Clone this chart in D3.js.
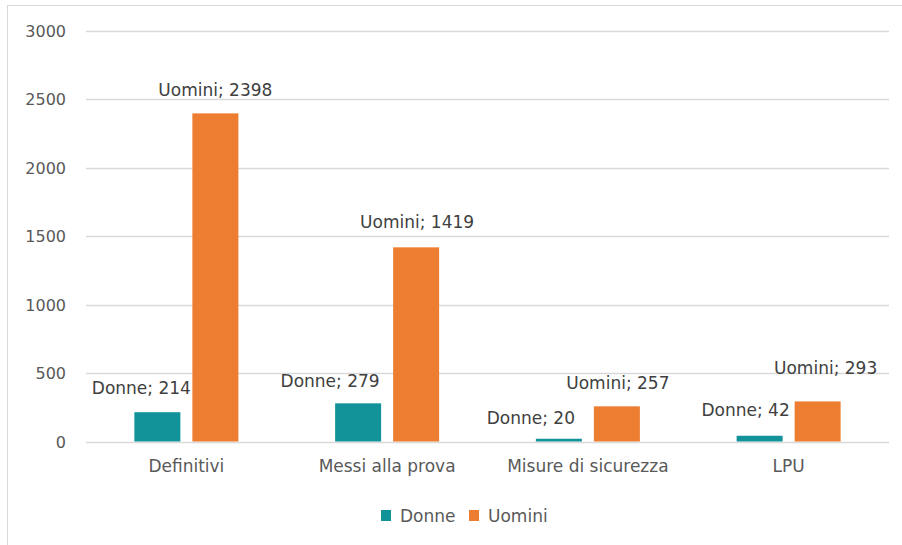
<!doctype html>
<html lang="it">
  <head>
    <meta charset="UTF-8" />
    <title>Donne e Uomini</title>
    <style>
      body { margin: 0; background: #fff; }
      svg text { font-family: "DejaVu Sans", sans-serif; fill: #595959; }
      svg text.lbl { fill: #404040; }
    </style>
  </head>
  <body>
    <div id="chart"></div>
    <script src="https://cdn.jsdelivr.net/npm/d3@7"></script>
    <script>
      const categories = ["Definitivi", "Messi alla prova", "Misure di sicurezza", "LPU"];
      const seriesNames = ["Donne", "Uomini"];
      const donne = [214, 279, 20, 42];
      const uomini = [2398, 1419, 257, 293];
      const yTicks = [0, 500, 1000, 1500, 2000, 2500, 3000];
      const colors = ["#12939a", "#ed7d31"];
      // label nudges (px) relative to bar centre / top, as placed in the original
      const labelDx = [[-16, -28, -28, -14], [0, 1, 1, 8]];
      const labelDy = [[-24, -22, -21, -26], [-23, -25, -23, -33]];

      const width = 902, height = 545;
      const margin = { top: 31, left: 86, right: 13, bottom: 104 };
      const values = [donne, uomini];

      const svg = d3.select("#chart").append("svg")
          .attr("width", width)
          .attr("height", height);

      // frame
      svg.append("rect")
          .attr("x", 7.5).attr("y", 5.5)
          .attr("width", width).attr("height", height)
          .attr("fill", "none").attr("stroke", "#d9d9d9");

      const y = d3.scaleLinear().domain([0, 3000]).range([height - margin.bottom + 0.5, margin.top]);
      const x0 = d3.scaleBand().domain(categories).range([margin.left, width - margin.right]);
      const x1 = d3.scaleBand().domain(seriesNames).range([0, x0.bandwidth()])
          .paddingInner(0.207).paddingOuter(0.834);

      // gridlines + tick labels
      svg.append("g").selectAll("line").data(yTicks).enter().append("line")
          .attr("x1", margin.left).attr("x2", width - margin.right)
          .attr("y1", d => Math.round(y(d)) + 0.5).attr("y2", d => Math.round(y(d)) + 0.5)
          .attr("stroke", "#d9d9d9").attr("stroke-width", 1.5);

      svg.append("g").selectAll("text").data(yTicks).enter().append("text")
          .attr("x", 66).attr("y", d => y(d) + 6)
          .attr("text-anchor", "end").attr("font-size", 16)
          .text(d => d);

      // bars
      seriesNames.forEach((s, si) => {
          const g = svg.append("g");
          g.selectAll("rect").data(values[si]).enter().append("rect")
              .attr("x", (d, i) => x0(categories[i]) + x1(s))
              .attr("y", d => y(d))
              .attr("width", x1.bandwidth())
              .attr("height", d => y(0) - y(d))
              .attr("fill", colors[si]);

          g.selectAll("text").data(values[si]).enter().append("text")
              .attr("class", "lbl")
              .attr("x", (d, i) => x0(categories[i]) + x1(s) + x1.bandwidth() / 2 + labelDx[si][i])
              .attr("y", (d, i) => y(d) + labelDy[si][i] + 6)
              .attr("text-anchor", "middle").attr("font-size", 17)
              .text(d => `${s}; ${d}`);
      });

      // category labels
      svg.append("g").selectAll("text").data(categories).enter().append("text")
          .attr("x", d => x0(d) + x0.bandwidth() / 2)
          .attr("y", 472)
          .attr("text-anchor", "middle").attr("font-size", 17)
          .text(d => d);

      // legend
      const legend = svg.append("g");
      const legendX = [381, 469];
      seriesNames.forEach((s, si) => {
          legend.append("rect")
              .attr("x", legendX[si]).attr("y", 510)
              .attr("width", 10).attr("height", 11)
              .attr("fill", colors[si]);
          legend.append("text")
              .attr("x", legendX[si] + 19).attr("y", 522)
              .attr("font-size", 17)
              .text(s);
      });
    </script>
  </body>
</html>
